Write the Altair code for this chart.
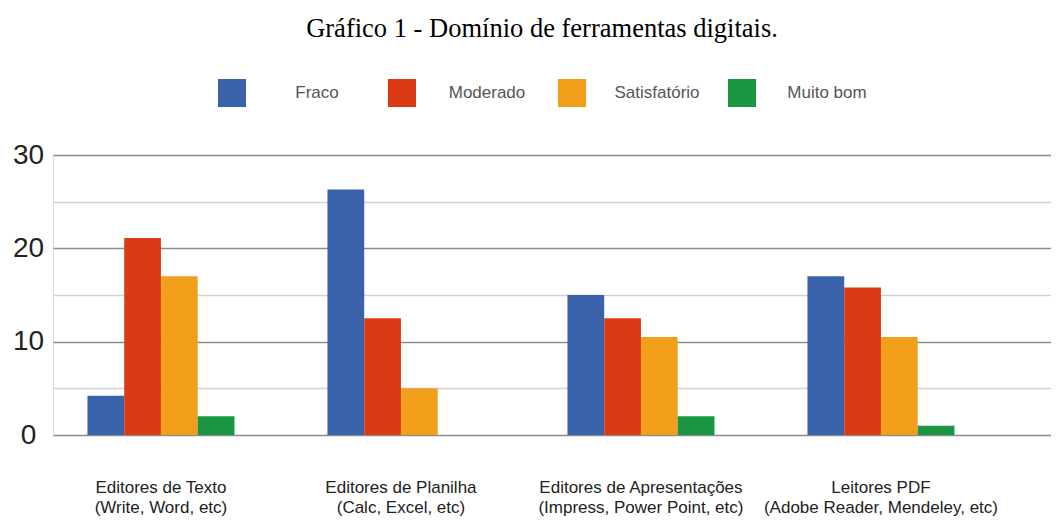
import altair as alt
import pandas as pd

categories = [
    "Editores de Texto|(Write, Word, etc)",
    "Editores de Planilha|(Calc, Excel, etc)",
    "Editores de Apresentações|(Impress, Power Point, etc)",
    "Leitores PDF|(Adobe Reader, Mendeley, etc)",
]
series_names = ["Fraco", "Moderado", "Satisfatório", "Muito bom"]
fraco = [4.2, 26.3, 15.0, 17.0]
moderado = [21.1, 12.5, 12.5, 15.8]
satisfatorio = [17.0, 5.0, 10.5, 10.5]
muito_bom = [2.0, None, 2.0, 1.0]
colors = ["#3a62aa", "#dc3a14", "#f19e1b", "#1b9640"]
y_ticks = [0, 5, 10, 15, 20, 25, 30]

rows = []
for name, vals in zip(series_names, [fraco, moderado, satisfatorio, muito_bom]):
    for cat, v in zip(categories, vals):
        if v is not None:
            rows.append({"cat": cat, "series": name, "value": v})
df = pd.DataFrame(rows)

chart = alt.Chart(df).mark_bar().encode(
    x=alt.X(
        "cat:N",
        sort=categories,
        scale=alt.Scale(paddingInner=0.3875, paddingOuter=0.2729, align=0.263),
        axis=alt.Axis(
            title=None,
            labelExpr="split(datum.label, '|')",
            labelAngle=0,
            domain=False,
            ticks=False,
            labelFont="Liberation Sans",
            labelFontSize=17,
            labelLineHeight=20,
            labelPadding=44,
            labelLimit=400,
            labelColor="#222222",
        ),
    ),
    xOffset=alt.XOffset(
        "series:N", sort=series_names,
        scale=alt.Scale(paddingInner=0, paddingOuter=0),
    ),
    y=alt.Y(
        "value:Q",
        scale=alt.Scale(domain=[0, 30], nice=False),
        axis=alt.Axis(
            title=None,
            values=y_ticks,
            labelExpr="datum.value % 10 === 0 ? datum.label : ''",
            domain=False,
            ticks=False,
            labelFont="Liberation Sans",
            labelFontSize=28,
            labelAlign="center",
            labelPadding=25,
            labelColor="#222222",
            gridColor={"condition": {"test": "datum.value % 10 === 0", "value": "#8c8c8c"}, "value": "#d2d2d2"},
            gridWidth=1.5,
        ),
    ),
    color=alt.Color(
        "series:N",
        sort=series_names,
        scale=alt.Scale(domain=series_names, range=colors),
        legend=alt.Legend(
            title=None,
            orient="none",
            legendX=165,
            legendY=-76,
            direction="horizontal",
            symbolType="square",
            symbolSize=784,
            symbolStrokeWidth=0,
            symbolOpacity=1,
            labelAlign="center",
            labelOffset=71,
            labelFont="Liberation Sans",
            labelFontSize=17,
            labelColor="#555555",
            columnPadding=28,
            gridAlign="all",
        ),
    ),
).properties(
    width=998,
    height=280,
    autosize=alt.AutoSizeParams(type="none"),
    padding={"left": 45, "top": 147, "right": 0, "bottom": 81},
    title=alt.TitleParams(
        "Gráfico 1 - Domínio de ferramentas digitais.",
        font="Liberation Serif",
        fontSize=26.5,
        fontWeight="normal",
        color="#000000",
        anchor="middle",
        dx=-10,
        offset=37,
    ),
).configure_view(stroke=None).configure(background="white")

chart.save("out.html", embed_options={"renderer": "svg", "actions": False})
